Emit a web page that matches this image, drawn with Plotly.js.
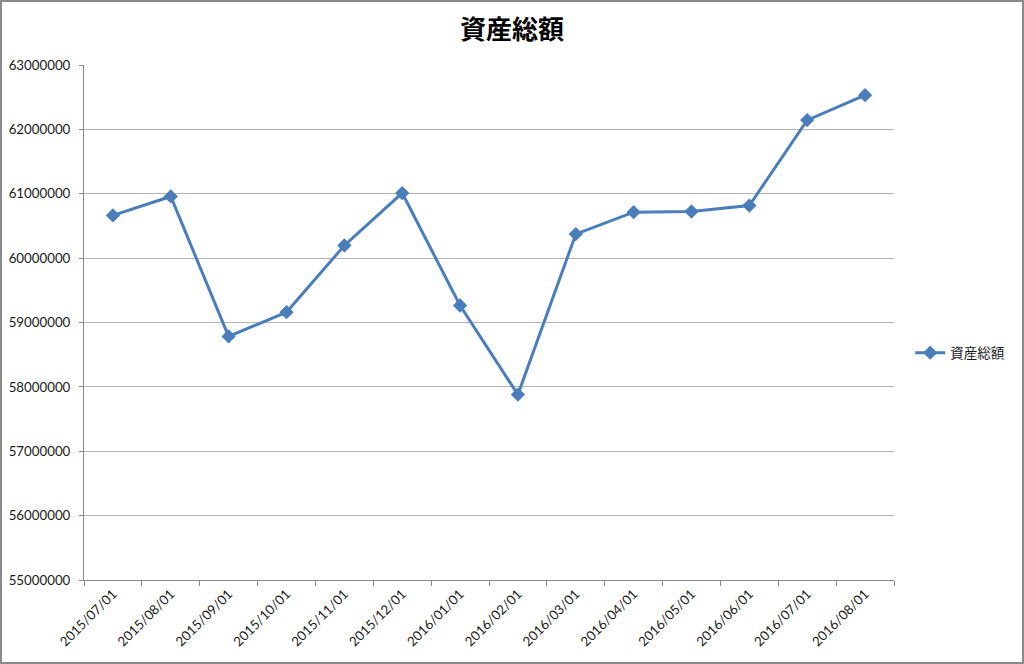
<!DOCTYPE html>
<html>
<head>
<meta charset="utf-8">
<script src="https://cdn.plot.ly/plotly-3.0.1.min.js"></script>
<style>
  html, body { margin: 0; padding: 0; background: #fff; }
  #wrap { position: relative; width: 1024px; height: 664px; }
  #chart { position: absolute; left: 0; top: 0; width: 1024px; height: 664px; }
  #frame { position: absolute; left: 0; top: 0; width: 1024px; height: 664px;
           box-sizing: border-box; border: 2px solid #8a8a8a; pointer-events: none; }
</style>
</head>
<body>
<div id="wrap">
  <div id="chart"></div>
  <div id="frame"></div>
</div>
<script>
// Month-end total assets
const dates = [
  "2015/07/01", "2015/08/01", "2015/09/01", "2015/10/01", "2015/11/01",
  "2015/12/01", "2016/01/01", "2016/02/01", "2016/03/01", "2016/04/01",
  "2016/05/01", "2016/06/01", "2016/07/01", "2016/08/01"
];
const totalAssets = [
  60663000, 60958000, 58783000, 59161000, 60196000,
  61011000, 59264000, 57880000, 60373000, 60714000,
  60724000, 60817000, 62144000, 62532000
];
const seriesName = "資産総額";
const chartTitle = "資産総額";

const lineColor = "#4a7ebb";
const tickFont = { family: "Lato, 'Noto Sans CJK JP', sans-serif", size: 13.3, color: "#1a1a1a" };

const trace = {
  type: "scatter",
  mode: "lines+markers",
  x: dates,
  y: totalAssets,
  name: seriesName,
  line: { color: lineColor, width: 3 },
  marker: { symbol: "diamond", size: 11, color: lineColor }
};

const layout = {
  width: 1024,
  height: 664,
  margin: { l: 84, r: 130, t: 65, b: 84 },
  paper_bgcolor: "#ffffff",
  plot_bgcolor: "#ffffff",
  title: {
    text: "<b>" + chartTitle + "</b>",
    font: { family: "'Noto Sans CJK JP', sans-serif", size: 26, color: "#000000" },
    x: 0.5, xanchor: "center",
    y: 0.955, yanchor: "middle", yref: "container"
  },
  showlegend: true,
  legend: {
    x: 1.02, xanchor: "left",
    y: 0.441, yanchor: "middle",
    font: { family: "'Noto Sans CJK JP', sans-serif", size: 13.5, color: "#1a1a1a" },
    bgcolor: "rgba(0,0,0,0)"
  },
  xaxis: {
    type: "category",
    tickangle: -45,
    tickson: "boundaries",
    ticks: "outside",
    ticklen: 5,
    tickcolor: "#8a8a8a",
    showgrid: false,
    showline: true,
    linecolor: "#8a8a8a",
    linewidth: 1,
    tickfont: tickFont,
    range: [-0.5, dates.length - 0.5],
    fixedrange: true
  },
  yaxis: {
    range: [55000000, 63000000],
    dtick: 1000000,
    tick0: 55000000,
    tickformat: "d",
    ticks: "outside",
    ticklen: 4,
    tickcolor: "#8a8a8a",
    ticklabelstandoff: 6,
    showgrid: true,
    gridcolor: "#b4b4b4",
    gridwidth: 1,
    zeroline: false,
    showline: true,
    linecolor: "#8a8a8a",
    linewidth: 1,
    tickfont: tickFont,
    fixedrange: true
  }
};

Plotly.newPlot("chart", [trace], layout, { displayModeBar: false, staticPlot: true });
</script>
</body>
</html>
